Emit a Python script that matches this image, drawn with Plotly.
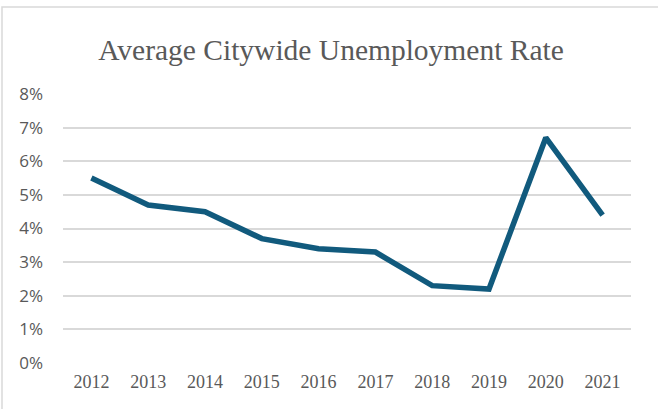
import plotly.graph_objects as go

years = ["2012", "2013", "2014", "2015", "2016", "2017", "2018", "2019", "2020", "2021"]
rates = [5.5, 4.7, 4.5, 3.7, 3.4, 3.3, 2.3, 2.2, 6.7, 4.4]
y_ticks = [0, 1, 2, 3, 4, 5, 6, 7, 8]
y_labels = [f"{v}%" for v in y_ticks]

W, H = 658, 409
L, R, T, B = 63, 27, 94, 46
pw, ph = W - L - R, H - T - B

def px_x(p):
    return (p - L) / pw

def px_y(p):
    return (H - B - p) / ph

fig = go.Figure()
fig.add_trace(go.Scatter(
    x=years, y=rates, mode="lines",
    line=dict(color="#115a7d", width=5.5),
    hoverinfo="skip",
))

fig.update_layout(
    width=W, height=H,
    margin=dict(l=L, r=R, t=T, b=B),
    paper_bgcolor="white", plot_bgcolor="white",
    showlegend=False,
    title=dict(
        text="Average Citywide Unemployment Rate",
        font=dict(family="Liberation Serif, Times New Roman, serif", size=29.5, color="#595959"),
        x=331 / W, xanchor="center", y=1 - 50 / H, yanchor="middle", xref="container",
    ),
    xaxis=dict(
        type="category", range=[-0.5, 9.5],
        showgrid=False, zeroline=False, showline=False, ticks="",
        tickfont=dict(family="Liberation Serif, Times New Roman, serif", size=18, color="#595959"),
        ticklabelstandoff=6,
    ),
    yaxis=dict(
        range=[0, 8], tickvals=y_ticks, ticktext=y_labels,
        showgrid=True, gridcolor="#d9d9d9", gridwidth=1.5,
        zeroline=False, showline=False, ticks="",
        tickfont=dict(family="Open Sans, sans-serif", size=17, color="#595959"),
        ticklabelstandoff=19,
    ),
    shapes=[dict(
        type="rect", xref="paper", yref="paper",
        x0=px_x(2), x1=px_x(680), y0=px_y(430), y1=px_y(7),
        line=dict(color="#d9d9d9", width=1.5), fillcolor="rgba(0,0,0,0)", layer="below",
    )],
)

fig.write_html("out.html")
